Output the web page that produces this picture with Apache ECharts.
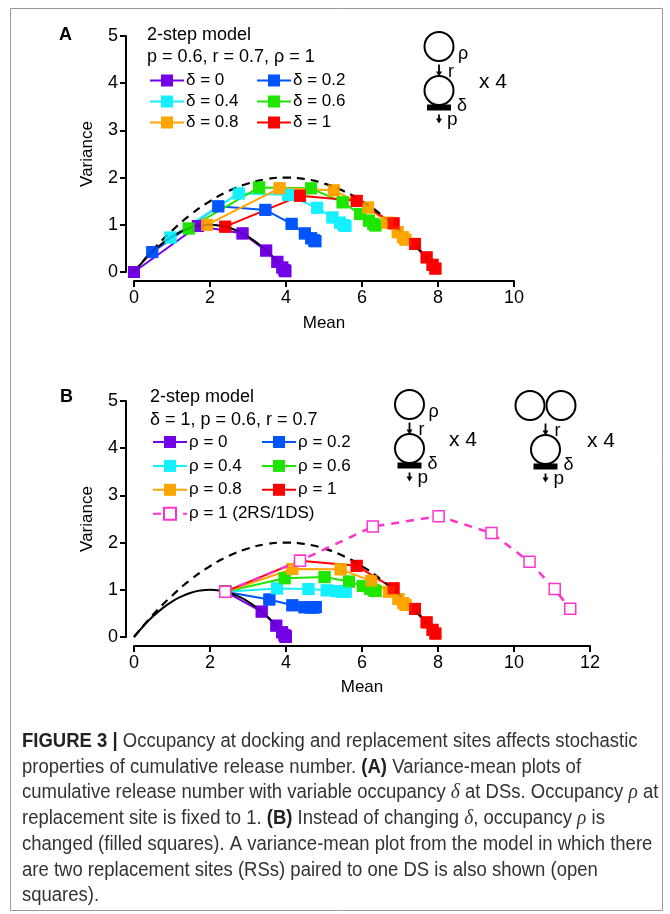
<!DOCTYPE html>
<html><head><meta charset="utf-8">
<script src="https://cdn.jsdelivr.net/npm/echarts@6/dist/echarts.min.js"></script>
<style>html,body{margin:0;padding:0;background:#fff}#c{width:670px;height:914px}</style>
</head><body><div id="c"></div>
<script>
// ---------- data ----------
const xMaxA = 10, xMaxB = 12, yMax = 5, xStep = 2, yStep = 1;
// Panel A: variable delta (rho = 1); points [mean, variance]
const A_d0  = [[0,0],[1.68,0.974],[2.856,0.817],[3.478,0.454],[3.772,0.215],[3.903,0.095],[3.959,0.040],[3.983,0.017]];
const A_d02 = [[0.48,0.422],[2.218,1.391],[3.457,1.316],[4.148,1.020],[4.496,0.817],[4.662,0.715],[4.739,0.670],[4.773,0.652]];
const A_d04 = [[0.96,0.730],[2.755,1.664],[4.058,1.635],[4.819,1.360],[5.221,1.155],[5.422,1.046],[5.518,0.996],[5.563,0.975]];
const A_d06 = [[1.44,0.922],[3.293,1.792],[4.659,1.773],[5.490,1.476],[5.946,1.231],[6.181,1.089],[6.297,1.018],[6.353,0.986]];
const A_d08 = [[1.92,0.998],[3.830,1.775],[5.260,1.730],[6.160,1.366],[6.671,1.045],[6.940,0.844],[7.076,0.737],[7.142,0.685]];
const A_d1  = [[2.4,0.96],[4.368,1.614],[5.861,1.507],[6.831,1.032],[7.395,0.595],[7.700,0.310],[7.856,0.152],[7.932,0.072]];
// Panel B: variable rho (delta = 1)
const B_r0  = [[2.4,0.96],[3.36,0.538],[3.744,0.240],[3.898,0.100],[3.959,0.041],[3.984,0.016],[3.993,0.007],[3.997,0.003]];
const B_r02 = [[2.4,0.96],[3.562,0.794],[4.167,0.672],[4.484,0.630],[4.646,0.624],[4.727,0.628],[4.766,0.632],[4.784,0.636]];
const B_r04 = [[2.4,0.96],[3.763,1.029],[4.591,1.016],[5.071,0.989],[5.334,0.971],[5.470,0.963],[5.538,0.960],[5.571,0.959]];
const B_r06 = [[2.4,0.96],[3.965,1.245],[5.014,1.269],[5.658,1.175],[6.021,1.082],[6.213,1.021],[6.311,0.989],[6.358,0.973]];
const B_r08 = [[2.4,0.96],[4.166,1.440],[5.437,1.433],[6.244,1.190],[6.708,0.957],[6.957,0.804],[7.083,0.720],[7.145,0.677]];
const B_r1  = [[2.4,0.96],[4.368,1.614],[5.861,1.507],[6.831,1.032],[7.395,0.595],[7.700,0.310],[7.856,0.152],[7.932,0.072]];
const B_2RS = [[2.4,0.96],[4.368,1.614],[6.284,2.339],[8.016,2.559],[9.406,2.203],[10.409,1.592],[11.071,1.015],[11.480,0.597]];
// Reference curves (binomial N=8 dashed, N=4 solid)
const curve8 = [[0,0],[0.5,0.469],[1,0.875],[1.5,1.219],[2,1.5],[2.5,1.719],[3,1.875],[3.5,1.969],[4,2],[4.5,1.969],[5,1.875],[5.5,1.719],[6,1.5],[6.5,1.219],[7,0.875],[7.5,0.469],[8,0]];
const curve4 = [[0,0],[0.25,0.234],[0.5,0.438],[0.75,0.609],[1,0.75],[1.25,0.859],[1.5,0.938],[1.75,0.984],[2,1],[2.25,0.984],[2.5,0.938],[2.75,0.859],[3,0.75],[3.25,0.609],[3.5,0.438],[3.75,0.234],[4,0]];

const namesA = ['δ = 0','δ = 0.2','δ = 0.4','δ = 0.6','δ = 0.8','δ = 1'];
const namesB = ['ρ = 0','ρ = 0.2','ρ = 0.4','ρ = 0.6','ρ = 0.8','ρ = 1'];
const name2RS = 'ρ = 1 (2RS/1DS)';
const colors = ['#7300e6','#0055ff','#14f0ff','#1ee600','#ffa500','#ff0000'];
const magenta = '#ff33cc';
const dataA = [A_d0,A_d02,A_d04,A_d06,A_d08,A_d1];
const dataB = [B_r0,B_r02,B_r04,B_r06,B_r08,B_r1];

// ---------- chart ----------
const FONT = 'Liberation Sans, Arial, sans-serif';
const chart = echarts.init(document.getElementById('c'), null, {renderer:'canvas'});

function mkX(gi, max, gap){
  return {gridIndex:gi, type:'value', min:0, max:max, interval:xStep, offset:9,
    name:'Mean', nameLocation:'middle', nameGap:gap,
    nameTextStyle:{fontFamily:FONT, fontSize:17, color:'#000'},
    axisLine:{show:true, onZero:false, lineStyle:{color:'#000', width:2}},
    axisTick:{show:true, length:6, lineStyle:{color:'#000', width:2}},
    axisLabel:{fontFamily:FONT, fontSize:18, color:'#000', margin:8},
    splitLine:{show:false}};
}
function mkY(gi){
  return {gridIndex:gi, type:'value', min:0, max:yMax, interval:yStep, offset:8,
    name:'Variance', nameLocation:'middle', nameGap:30, nameRotate:90,
    nameTextStyle:{fontFamily:FONT, fontSize:17, color:'#000'},
    axisLine:{show:true, onZero:false, lineStyle:{color:'#000', width:2}},
    axisTick:{show:true, length:6, lineStyle:{color:'#000', width:2}},
    axisLabel:{fontFamily:FONT, fontSize:18, color:'#000', margin:8},
    splitLine:{show:false}};
}

const series = [];
function addPanel(gi, datas, names){
  datas.forEach((d,i)=>{
    series.push({type:'line', name:names[i], data:d, xAxisIndex:gi, yAxisIndex:gi,
      symbol:'rect', symbolSize:12, showAllSymbol:true, z:2,
      lineStyle:{color:colors[i], width:2}, itemStyle:{color:colors[i]}, color:colors[i]});
  });
  series.push({type:'line', data:curve8, xAxisIndex:gi, yAxisIndex:gi, smooth:true, symbol:'none', z:3, silent:true,
    lineStyle:{color:'#000', width:2.2, type:[8,6]}});
  series.push({type:'line', data:curve4, xAxisIndex:gi, yAxisIndex:gi, smooth:true, symbol:'none', z:3, silent:true,
    lineStyle:{color:'#000', width:2}});
  datas.forEach((d,i)=>{
    series.push({type:'scatter', data:d, xAxisIndex:gi, yAxisIndex:gi, symbol:'rect', symbolSize:12, z:4, silent:true,
      itemStyle:{color:colors[i]}});
  });
}
addPanel(0, dataA, namesA);
addPanel(1, dataB, namesB);
series.push({type:'line', name:name2RS, data:B_2RS, xAxisIndex:1, yAxisIndex:1, symbol:'rect', symbolSize:11,
  showAllSymbol:true, z:5, lineStyle:{color:magenta, width:2.5, type:[8,7]},
  itemStyle:{color:'#fff', borderColor:magenta, borderWidth:1.5}, color:magenta});

function mkLegend(left, top, data, gap){
  return {left:left, top:top, orient:'vertical', data:data, itemWidth:34, itemHeight:15, itemGap:gap, padding:0,
    selectedMode:false, textStyle:{fontFamily:FONT, fontSize:17, color:'#000', lineHeight:16, padding:[0,0,0,-3]}};
}

// ---------- diagrams ----------
const G = [];
function txt(x,y,s,size,extra){
  G.push(Object.assign({type:'text', x:x, y:y, style:Object.assign({text:s, fontFamily:FONT, fontSize:size, fill:'#000', textVerticalAlign:'middle', verticalAlign:'middle'}, extra||{})}));
}
function circ(cx,cy,r){ G.push({type:'circle', shape:{cx:cx, cy:cy, r:r}, style:{fill:'#fff', stroke:'#000', lineWidth:2}}); }
function arrow(x,y1,y2){
  G.push({type:'line', shape:{x1:x, y1:y1, x2:x, y2:y2-4}, style:{stroke:'#000', lineWidth:1.8}});
  G.push({type:'polygon', shape:{points:[[x-3,y2-5],[x+3,y2-5],[x,y2]]}, style:{fill:'#000'}});
}
function unit(cx, T, double, withRho, xlab){
  if(double){ circ(cx-15.5, T, 14.5); circ(cx+15.5, T, 14.5); }
  else circ(cx, T, 14.5);
  arrow(cx, T+18, T+30);
  txt(cx+9, T+26, 'r', 18);
  if(withRho) txt(cx+19, T+8, 'ρ', 18);
  circ(cx, T+44, 14.5);
  G.push({type:'rect', shape:{x:cx-12, y:T+58, width:24, height:6}, style:{fill:'#000'}});
  txt(cx+18, T+60, 'δ', 18);
  arrow(cx, T+68, T+77);
  txt(cx+8, T+73, 'p', 19);
  txt(xlab, T+36, 'x 4', 21);
}
unit(439, 46.5, false, true, 479);
unit(409.5, 404.5, false, true, 449);
unit(545.5, 405.5, true, false, 587);

// panel labels & titles
txt(59, 35, 'A', 18, {fontWeight:'bold'});
txt(60, 397, 'B', 18, {fontWeight:'bold'});
txt(147, 35, '2-step model', 18);
txt(147, 57, 'p = 0.6, r = 0.7, ρ = 1', 18);
txt(150, 397, '2-step model', 18);
txt(150, 420.5, 'δ = 1, p = 0.6, r = 0.7', 18);

// caption
const capLines = [
  '{b|FIGURE 3 |} Occupancy at docking and replacement sites affects stochastic',
  'properties of cumulative release number. {b|(A)} Variance-mean plots of',
  'cumulative release number with variable occupancy {i|δ} at DSs. Occupancy {i|ρ} at',
  'replacement site is fixed to 1. {b|(B)} Instead of changing {i|δ}, occupancy {i|ρ} is',
  'changed (filled squares). A variance-mean plot from the model in which there',
  'are two replacement sites (RSs) paired to one DS is also shown (open',
  'squares).'
];
capLines.forEach((s,k)=>{
  G.push({type:'text', x:22, y:741.5+k*25.7, scaleX:0.925,
    style:{text:s, fontFamily:FONT, fontSize:20, fill:'#333', verticalAlign:'middle', textVerticalAlign:'middle',
      rich:{b:{fontWeight:'bold', fontFamily:FONT, fontSize:20, fill:'#222'}, i:{fontStyle:'italic', fontFamily:'Liberation Serif, serif', fontSize:21, fill:'#333'}}}});
});
// frame
G.push({type:'rect', shape:{x:10.5, y:8.5, width:652, height:902}, style:{fill:'none', stroke:'#999', lineWidth:1}, z:-1});

chart.setOption({
  animation:false,
  backgroundColor:'#fff',
  grid:[{left:134, top:36, width:380, height:236}, {left:134, top:401, width:456, height:236}],
  xAxis:[mkX(0,xMaxA,34), mkX(1,xMaxB,33)],
  yAxis:[mkY(0), mkY(1)],
  legend:[
    mkLegend(149, 72, [namesA[0],namesA[2],namesA[4]], 4),
    mkLegend(256, 72, [namesA[1],namesA[3],namesA[5]], 4),
    mkLegend(152, 433.5, [namesB[0],namesB[2],namesB[4],name2RS], 6.9),
    mkLegend(261, 433.5, [namesB[1],namesB[3],namesB[5]], 6.9)
  ],
  series:series,
  graphic:{elements:G}
});
</script></body></html>
